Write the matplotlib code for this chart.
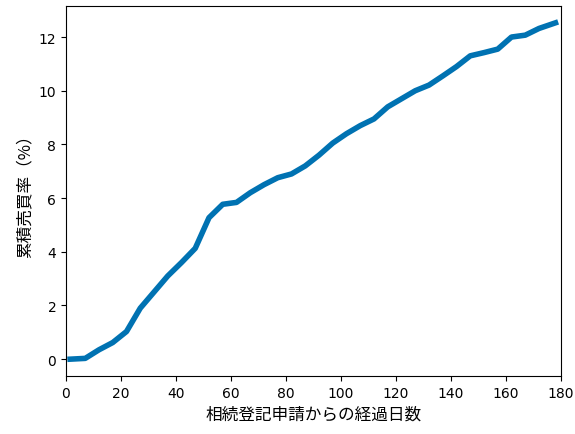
import matplotlib
matplotlib.use("Agg")
import matplotlib.pyplot as plt

days = [1.5, 7, 12, 17, 22, 27, 32, 37, 42, 47, 52, 57, 62, 67, 72, 77, 82, 87,
        92, 97, 102, 107, 112, 117, 122, 127, 132, 137, 142, 147, 152, 157, 162,
        167, 172, 178]
rate = [0.0, 0.03, 0.35, 0.62, 1.03, 1.9, 2.5, 3.1, 3.6, 4.13, 5.27, 5.77, 5.84,
        6.2, 6.5, 6.76, 6.9, 7.2, 7.6, 8.05, 8.4, 8.7, 8.95, 9.4, 9.7, 10.0, 10.21,
        10.55, 10.9, 11.3, 11.42, 11.55, 12.0, 12.07, 12.32, 12.53]

jp = ['Noto Sans CJK JP', 'DejaVu Sans']

fig = plt.figure(figsize=(5.75, 4.35), dpi=100)
ax = fig.add_axes([66/575, 1-377/435, (561-66)/575, (377-7)/435])
ax.plot(days, rate, color='#0072B2', linewidth=4)
ax.set_xlim(0, 180)
ax.set_xlabel('相続登記申請からの経過日数', family=jp, fontsize=12)
ax.set_ylabel('累積売買率（%）', family=jp, fontsize=12)
fig.savefig('out.png', dpi=100)
